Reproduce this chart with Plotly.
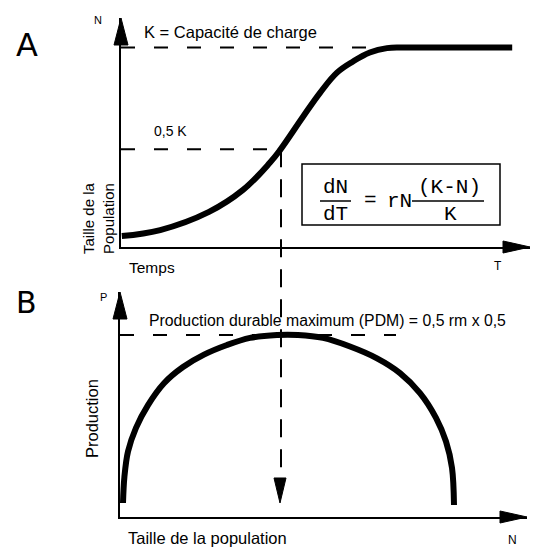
import plotly.graph_objects as go

# ---------------- data ----------------
# Panel A: logistic growth, time (arbitrary units) vs population size (fraction of K)
time_A = [0.02, 0.98, 2.2, 3.05, 3.72, 3.98, 4.55, 4.98, 5.4, 5.8, 6.22, 6.65, 7.05, 8.4, 9.78]
size_A = [0.055, 0.085, 0.176, 0.286, 0.422, 0.487, 0.653, 0.774, 0.874, 0.93, 0.975, 0.997, 1.0, 1.0, 1.0]
K_level = 1.0
halfK_level = 0.49
K_line_end = 7.0
msy_pop = 4.0          # population size at 0.5 K

# Panel B: production vs population size
pop_B = [0.075, 0.11, 0.2, 0.4, 0.7, 1.1, 1.575, 2.1, 2.675, 3.25, 3.925,
         4.45, 5.075, 5.75, 6.425, 7.0, 7.5, 7.9, 8.15, 8.3, 8.35]
prod_B = [0.077, 0.22, 0.36, 0.49, 0.615, 0.735, 0.824, 0.892, 0.945, 0.984, 1.0,
          1.0, 0.984, 0.937, 0.872, 0.791, 0.681, 0.545, 0.415, 0.27, 0.066]
PDM_level = 1.0
PDM_line_end = 6.9
arrow_tip_B = 0.077
dash_end_B = 0.26

labels = {
    "A": "A", "B": "B",
    "K": "K = Capacité de charge",
    "half": "0,5 K",
    "ylabA": "Taille de la<br>Population",
    "xlabA": "Temps",
    "T": "T", "N": "N", "P": "P",
    "pdm": "Production durable maximum (PDM) = 0,5 rm x 0,5",
    "ylabB": "Production",
    "xlabB": "Taille de la population",
}

# ---------------- layout geometry (pixels) ----------------
W, H = 536, 547
def px_x(x):
    return x / W
def px_y(y):
    return 1 - y / H

A_x = (121, 530); A_y = (247, 18)
B_x = (120, 527); B_y = (517, 292)
sx = 40.0              # px per x unit
syA = 199.5            # px per unit in panel A
syB = 182.0            # px per unit in panel B

xA_range = [0, (A_x[1] - A_x[0]) / sx]
yA_range = [0, (A_y[0] - A_y[1]) / syA]
xB_range = [0, (B_x[1] - B_x[0]) / sx]
yB_range = [0, (B_y[0] - B_y[1]) / syB]

def yA_to_paper(v):
    d0, d1 = px_y(A_y[0]), px_y(A_y[1])
    return d0 + (v - yA_range[0]) / (yA_range[1] - yA_range[0]) * (d1 - d0)
def yB_to_paper(v):
    d0, d1 = px_y(B_y[0]), px_y(B_y[1])
    return d0 + (v - yB_range[0]) / (yB_range[1] - yB_range[0]) * (d1 - d0)

fig = go.Figure()
fig.add_trace(go.Scatter(x=time_A, y=size_A, mode="lines", xaxis="x", yaxis="y",
                         line=dict(color="black", width=6, shape="spline", smoothing=1.1),
                         cliponaxis=False, hoverinfo="skip", showlegend=False))
fig.add_trace(go.Scatter(x=pop_B, y=prod_B, mode="lines", xaxis="x2", yaxis="y2",
                         line=dict(color="black", width=6, shape="spline", smoothing=1.0),
                         cliponaxis=False, hoverinfo="skip", showlegend=False))

ax_common = dict(showgrid=False, zeroline=False, showticklabels=False, ticks="",
                 showline=True, linecolor="black", linewidth=2, fixedrange=True)
fig.update_layout(
    width=W, height=H, margin=dict(l=0, r=0, t=0, b=0),
    paper_bgcolor="white", plot_bgcolor="white", showlegend=False,
    xaxis=dict(domain=[px_x(A_x[0]), px_x(A_x[1])], range=xA_range, anchor="y", **ax_common),
    yaxis=dict(domain=[px_y(A_y[0]), px_y(A_y[1])], range=yA_range, anchor="x", **ax_common),
    xaxis2=dict(domain=[px_x(B_x[0]), px_x(B_x[1])], range=xB_range, anchor="y2", **ax_common),
    yaxis2=dict(domain=[px_y(B_y[0]), px_y(B_y[1])], range=yB_range, anchor="x2", **ax_common),
)

dash_h = "14px,19px"
dash_v = "18px,12px"
shapes = []
# dashed guides
shapes.append(dict(type="line", xref="x", yref="y", x0=0, x1=K_line_end, y0=K_level, y1=K_level,
                   line=dict(color="black", width=2, dash=dash_h)))
shapes.append(dict(type="line", xref="x", yref="y", x0=0, x1=msy_pop, y0=halfK_level, y1=halfK_level,
                   line=dict(color="black", width=2, dash=dash_h)))
shapes.append(dict(type="line", xref="x2", yref="y2", x0=0, x1=PDM_line_end, y0=PDM_level, y1=PDM_level,
                   line=dict(color="black", width=2, dash=dash_h)))
shapes.append(dict(type="line", xref="x", yref="paper", x0=msy_pop, x1=msy_pop,
                   y0=yA_to_paper(halfK_level), y1=yB_to_paper(dash_end_B),
                   line=dict(color="black", width=2, dash=dash_v)))
# arrowheads
def head(xref, yref, xa, ya, path):
    return dict(type="path", xref=xref, yref=yref, xsizemode="pixel", ysizemode="pixel",
                xanchor=xa, yanchor=ya, path=path, fillcolor="black",
                line=dict(color="black", width=1))
up = "M0,0 L-7,-27 L7,-27 Z"
right = "M0,0 L-27,6 L-27,-6 Z"
down = "M0,0 L-6,25 L6,25 Z"
shapes.append(head("x domain", "y domain", 0, 1, up))
shapes.append(head("x domain", "y domain", 1, 0, right))
shapes.append(head("x2 domain", "y2 domain", 0, 1, up))
shapes.append(head("x2 domain", "y2 domain", 1, 0, right))
shapes.append(head("x2", "y2", msy_pop, arrow_tip_B, down))
# equation box and fraction bars
shapes.append(dict(type="rect", xref="paper", yref="paper", x0=px_x(302), x1=px_x(500),
                   y0=px_y(225), y1=px_y(164), line=dict(color="black", width=1.5)))
shapes.append(dict(type="line", xref="paper", yref="paper", x0=px_x(320), x1=px_x(351),
                   y0=px_y(201), y1=px_y(201), line=dict(color="black", width=1.5)))
shapes.append(dict(type="line", xref="paper", yref="paper", x0=px_x(412), x1=px_x(484),
                   y0=px_y(201), y1=px_y(201), line=dict(color="black", width=1.5)))
fig.update_layout(shapes=shapes)

SANS = "Liberation Sans, Arial, sans-serif"
MONO = "Liberation Mono, Courier New, monospace"
def txt(s, x, y, size=14, xanchor="center", font=SANS, angle=0):
    fig.add_annotation(text=s, x=px_x(x), y=px_y(y), xref="paper", yref="paper",
                       showarrow=False, xanchor=xanchor, yanchor="middle", textangle=angle,
                       font=dict(family=font, size=size, color="black"))

txt(labels["A"], 27, 45, size=32, font="DejaVu Sans, sans-serif")
txt(labels["B"], 26, 302, size=30, font="DejaVu Sans, sans-serif")
txt(labels["N"], 98, 20, size=11)
txt(labels["K"], 142, 32, size=16.5, xanchor="left")
txt(labels["half"], 152, 131, size=14, xanchor="left")
txt(labels["ylabA"], 98, 218, size=15, angle=-90)
txt(labels["xlabA"], 127, 268, size=15.5, xanchor="left")
txt(labels["T"], 498, 266, size=12)
txt(labels["P"], 103, 297, size=11)
txt(labels["pdm"], 147, 320, size=15.8, xanchor="left")
txt(labels["ylabB"], 92, 419, size=16.5, angle=-90)
txt(labels["xlabB"], 126, 538, size=16.5, xanchor="left")
txt(labels["N"], 512, 540, size=12)

# equation
txt("dN", 335, 188, size=21, font=MONO)
txt("dT", 335, 214, size=21, font=MONO)
txt("=", 370, 200, size=21, font=MONO)
txt("rN", 399, 202, size=21, font=MONO)
txt("(K-N)", 449, 188, size=21, font=MONO)
txt("K", 450, 214, size=21, font=MONO)

fig.write_html("out.html", config={"displayModeBar": False},
               post_script="document.body.style.margin='0px';document.body.style.overflow='hidden';")
